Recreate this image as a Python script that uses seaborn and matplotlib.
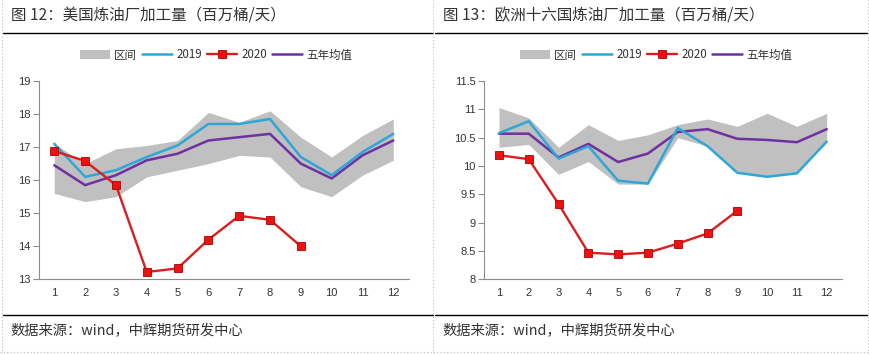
import matplotlib
matplotlib.use("Agg")
import matplotlib.pyplot as plt
import seaborn as sns
import pandas as pd
import numpy as np
from matplotlib.lines import Line2D
from matplotlib.patches import Patch

sns.set_theme(style="white")
plt.rcParams['font.family'] = ['Noto Sans CJK SC', 'DejaVu Sans']

months = list(range(1, 13))
month_labels = [str(m) for m in months]

# US refinery throughput (million bbl/day)
us_hi = [17.1, 16.5, 16.95, 17.05, 17.2, 18.05, 17.75, 18.1, 17.3, 16.7, 17.35, 17.85]
us_lo = [15.6, 15.35, 15.5, 16.1, 16.3, 16.5, 16.75, 16.7, 15.8, 15.5, 16.15, 16.6]
us_2019 = [17.1, 16.1, 16.3, 16.7, 17.05, 17.7, 17.7, 17.85, 16.7, 16.15, 16.85, 17.4]
us_avg = [16.45, 15.85, 16.15, 16.6, 16.8, 17.2, 17.3, 17.4, 16.5, 16.05, 16.75, 17.2]
us_2020 = [16.88, 16.58, 15.85, 13.22, 13.33, 14.2, 14.92, 14.8, 14.0]

# Europe-16 refinery throughput (million bbl/day)
eu_hi = [11.03, 10.85, 10.33, 10.73, 10.45, 10.55, 10.73, 10.83, 10.7, 10.93, 10.7, 10.93]
eu_lo = [10.33, 10.38, 9.85, 10.08, 9.68, 9.68, 10.5, 10.35, 9.88, 9.8, 9.87, 10.42]
eu_2019 = [10.58, 10.79, 10.13, 10.35, 9.74, 9.69, 10.67, 10.35, 9.88, 9.81, 9.87, 10.43]
eu_avg = [10.57, 10.57, 10.15, 10.39, 10.07, 10.22, 10.6, 10.65, 10.48, 10.46, 10.42, 10.65]
eu_2020 = [10.19, 10.12, 9.33, 8.47, 8.44, 8.47, 8.63, 8.81, 9.21]

titles = ["图 12：美国炼油厂加工量（百万桶/天）", "图 13：欧洲十六国炼油厂加工量（百万桶/天）"]
source = "数据来源：wind，中辉期货研发中心"

C_BAND = "#C0C0C0"
C_2019 = "#2EA7D7"
C_2020 = "#D81E1E"
C_MK = "#EE1111"
C_AVG = "#7030A0"
C_AX = "#8C8C8C"

W, H = 870, 354
fig = plt.figure(figsize=(W / 100, H / 100), dpi=100)

def fx(px):
    return px / W

def fy(py):
    return 1 - py / H

panels = [
    dict(x0=38.9, x1=408.7, hi=us_hi, lo=us_lo, s19=us_2019, avg=us_avg, s20=us_2020,
         ylim=(13, 19), yticks=np.arange(13, 19.1, 1), fmt="{:.0f}", lx=216, px0=3, px1=433),
    dict(x0=484.1, x1=841.6, hi=eu_hi, lo=eu_lo, s19=eu_2019, avg=eu_avg, s20=eu_2020,
         ylim=(8, 11.5), yticks=np.arange(8, 11.51, 0.5), fmt="{:g}", lx=656, px0=435, px1=867),
]

for i, p in enumerate(panels):
    ax = fig.add_axes([fx(p["x0"]), fy(279.3), fx(p["x1"] - p["x0"]), (279.3 - 81) / H])
    df = pd.DataFrame({"month": months, "hi": p["hi"], "lo": p["lo"],
                       "y2019": p["s19"], "avg": p["avg"]})
    df20 = pd.DataFrame({"month": months[:len(p["s20"])], "y2020": p["s20"]})
    ax.fill_between(df["month"], df["lo"], df["hi"], color=C_BAND, lw=0, zorder=1)
    sns.lineplot(data=df, x="month", y="y2019", ax=ax, color=C_2019, lw=1.8, zorder=3)
    sns.lineplot(data=df, x="month", y="avg", ax=ax, color=C_AVG, lw=1.8, zorder=2)
    sns.lineplot(data=df20, x="month", y="y2020", ax=ax, color=C_2020, lw=1.7, zorder=4,
                 marker="s", markersize=6, markerfacecolor=C_MK, markeredgecolor="#B00000",
                 markeredgewidth=0.6)
    ax.set_xlim(0.5, 12.5)
    ax.set_ylim(*p["ylim"])
    ax.set_xticks(months)
    ax.set_xticklabels(month_labels, fontsize=8, color="#333333", family="Liberation Sans")
    ax.set_xticks(np.arange(0.5, 12.6, 1), minor=True)
    ax.tick_params(axis="x", which="major", length=0, pad=6)
    ax.tick_params(axis="x", which="minor", length=4, width=0.8, color=C_AX, direction="out")
    ax.set_yticks(p["yticks"])
    ax.set_yticklabels([p["fmt"].format(v) for v in p["yticks"]], fontsize=8,
                       color="#333333", family="Liberation Sans")
    ax.tick_params(axis="y", length=4, width=0.8, color=C_AX, direction="out", pad=2, left=True)
    for s in ["top", "right"]:
        ax.spines[s].set_visible(False)
    for s in ["left", "bottom"]:
        ax.spines[s].set_color(C_AX)
        ax.spines[s].set_linewidth(0.8)
    ax.set_xlabel("")
    ax.set_ylabel("")
    ax.grid(False)
    ax.set_facecolor("none")

    handles = [
        Patch(facecolor=C_BAND, edgecolor="none"),
        Line2D([], [], color=C_2019, lw=1.8),
        Line2D([], [], color=C_2020, lw=1.7, marker="s", markersize=6,
               markerfacecolor=C_MK, markeredgecolor="#B00000", markeredgewidth=0.6),
        Line2D([], [], color=C_AVG, lw=1.8),
    ]
    fig.legend(handles, ["区间", "2019", "2020", "五年均值"], ncol=4, frameon=False,
               loc="center", bbox_to_anchor=(fx(p["lx"]), fy(55)), fontsize=8.3,
               handlelength=2.6, handleheight=0.7, columnspacing=0.4, handletextpad=0.4,
               labelcolor="#333333")

    # title, rules, source
    fig.text(fx(p["px0"] + 8), fy(16), titles[i], fontsize=11.2, color="#333333",
             va="center", ha="left")
    fig.add_artist(Line2D([fx(p["px0"]), fx(p["px1"])], [fy(33), fy(33)],
                          color="black", lw=1.0))
    fig.add_artist(Line2D([fx(p["px0"]), fx(p["px1"])], [fy(315), fy(315)],
                          color="black", lw=1.0))
    fig.text(fx(p["px0"] + 7), fy(331), source, fontsize=10.3, color="#333333",
             va="center", ha="left")

# dotted panel borders
for xp in [2, 433.5, 868]:
    fig.add_artist(Line2D([fx(xp), fx(xp)], [0, 1], color="#BBBBBB", lw=0.8, ls=(0, (1, 2))))
fig.add_artist(Line2D([0, 1], [fy(352), fy(352)], color="#BBBBBB", lw=0.8, ls=(0, (1, 2))))

fig.savefig("out.png", dpi=100)
